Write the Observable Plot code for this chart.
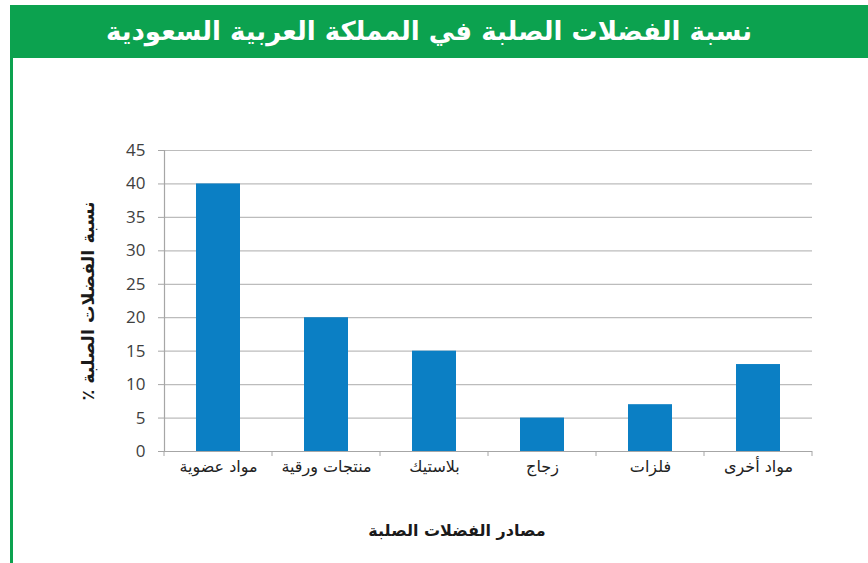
<!DOCTYPE html>
<html>
<head>
<meta charset="utf-8">
<script src="https://cdn.jsdelivr.net/npm/d3@7"></script>
<script src="https://cdn.jsdelivr.net/npm/@observablehq/plot@0.6"></script>
<style>
  html, body { margin: 0; padding: 0; background: #ffffff; }
  #wrap { position: relative; width: 868px; height: 563px; overflow: hidden; background: #fff; font-family: "DejaVu Sans", sans-serif; }
  #band { position: absolute; left: 10px; top: 5px; width: 858px; height: 53px; background: #0ca24f; }
  #title { position: absolute; left: 10px; top: 5px; width: 858px; height: 53px; line-height: 53px; text-align: center; color: #fff; font-weight: bold; font-size: 26px; direction: rtl; margin-left: -10px; }
  #border { position: absolute; left: 10px; top: 5px; width: 3px; height: 558px; background: #0ca24f; }
  #chart { position: absolute; left: 0; top: 0; }
  #xtitle { position: absolute; left: 357px; width: 200px; top: 521px; text-align: center; font-weight: bold; font-size: 16px; color: #1a1a1a; direction: rtl; }
  #ytitle { position: absolute; left: 88px; top: 302px; width: 280px; margin-left: -140px; margin-top: -11px; text-align: center; font-weight: bold; font-size: 17.5px; color: #1a1a1a; direction: rtl; transform: rotate(-90deg); }
</style>
</head>
<body>
<div id="wrap">
  <div id="chart"></div>
  <div id="band"></div>
  <div id="border"></div>
  <div id="title"></div>
  <div id="xtitle"></div>
  <div id="ytitle"></div>
</div>
<script>
const chartTitle = "نسبة الفضلات الصلبة في المملكة العربية السعودية";
const xTitle = "مصادر الفضلات الصلبة";
const yTitle = "نسبة الفضلات الصلبة ٪";
const categories = ["مواد عضوية", "منتجات ورقية", "بلاستيك", "زجاج", "فلزات", "مواد أخرى"];
const values = [40, 20, 15, 5, 7, 13];
const yTicks = [0, 5, 10, 15, 20, 25, 30, 35, 40, 45];

document.getElementById("title").textContent = chartTitle;
document.getElementById("xtitle").textContent = xTitle;
document.getElementById("ytitle").textContent = yTitle;

const data = categories.map((c, i) => ({category: c, value: values[i]}));

// tick marks at the category boundaries (bands fill the axis evenly)
function boundaryTicks(index, scales, vals, dims) {
  const g = d3.create("svg:g");
  const n = categories.length;
  const x0 = dims.marginLeft, x1 = dims.width - dims.marginRight;
  const y0 = scales.y(0);
  for (let i = 0; i <= n; i++) {
    const xx = x0 + (x1 - x0) * i / n;
    g.append("line").attr("x1", xx).attr("x2", xx).attr("y1", y0).attr("y2", y0 + 5)
      .attr("stroke", "#a6a6a6").attr("stroke-width", 1);
  }
  return g.node();
}

const chart = Plot.plot({
  width: 868,
  height: 563,
  marginLeft: 164,
  marginRight: 56,
  marginTop: 150,
  marginBottom: 112,
  style: {background: "transparent", overflow: "visible"},
  x: {domain: categories, paddingInner: 0.59, paddingOuter: 0.295, label: null},
  y: {domain: [0, 45], label: null},
  marks: [
    Plot.gridY(yTicks, {stroke: "#bcbcbc", strokeOpacity: 1, strokeWidth: 1.2}),
    Plot.barY(data, {x: "category", y: "value", fill: "#0b7fc4"}),
    Plot.ruleY([0], {stroke: "#a6a6a6", strokeWidth: 1.2}),
    Plot.frame({anchor: "left", stroke: "#a6a6a6", strokeWidth: 1.2}),
    Plot.axisY(yTicks, {tickSize: 6, tickPadding: 13, fontSize: 17, fill: "#404040", stroke: "#a6a6a6", fontFamily: "'Open Sans', sans-serif", label: null}),
    Plot.axisX({tickSize: 0, tickPadding: 9, fontSize: 16, fill: "#222", fontFamily: "'DejaVu Sans', sans-serif", label: null}),
    boundaryTicks
  ]
});
document.getElementById("chart").appendChild(chart);
</script>
</body>
</html>
